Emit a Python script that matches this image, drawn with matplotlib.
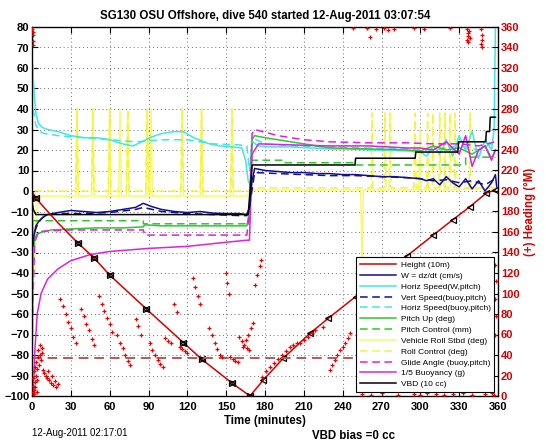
import numpy as np
import matplotlib
matplotlib.use("Agg")
import matplotlib.pyplot as plt

plt.rcParams['font.family'] = ['Liberation Sans', 'DejaVu Sans']
plt.rcParams['font.weight'] = 'bold'

# ---------------- data ----------------
height_t = [0, 3, 10, 20, 35.5, 48, 60, 90, 131, 154.5, 168.4, 178.7, 194.1, 214.8, 228.9, 260, 290, 320, 338, 351, 358]
height_v = [0, -3.5, -8.5, -15.5, -25.4, -32.7, -41, -58.5, -82, -93.7, -100, -92.2, -81.6, -69.4, -62.1, -46.5, -31.5, -16.5, -7.8, -1, 0.5]
height_mark_down_t = [3, 35.5, 48, 60, 88, 117, 131, 154.3, 168.4]
height_mark_up_t = [178.7, 194.1, 214.8, 228.9, 250, 270, 290, 310, 325, 338, 351, 357.5]

w_t = [0, 0.5, 1.5, 3, 5, 8, 12, 20, 30, 40, 50, 60, 70, 80, 86, 92, 100, 110, 120, 130, 140, 150, 160, 166, 168, 170, 172, 180, 190, 200, 210, 220, 230, 240, 250, 260, 270, 280, 290, 300, 305, 310, 315, 320, 325, 330, 335, 340, 345, 350, 355, 358, 359]
w_v = [0, -27, -22, -17, -15, -13, -11.5, -10.5, -9.5, -10, -10.5, -10, -9, -8, -6, -7.5, -9, -10, -10.5, -10, -10.8, -11, -11, -11.5, -8, 5, 11, 10, 9.5, 9, 9, 8.5, 8.5, 8, 8, 7.5, 7, 7, 6.5, 6, 5, 6, 3, 7, 4, 2, 6, 1, 5, 0, 4, 8, 2]

vs_t = [2, 5, 10, 20, 40, 60, 80, 86, 100, 120, 140, 160, 166, 168, 172, 190, 210, 230, 250, 270, 290, 300, 310, 320, 330, 340, 350, 358]
vs_v = [-20, -15, -12, -11, -11, -10.5, -9, -8, -10, -11, -11.5, -12, -12, -8, 9, 8.5, 8, 7.5, 7.5, 7, 6.5, 6, 5, 5.5, 4, 5, 3, 6]

hs_t = [0, 0.5, 1, 2, 3, 5, 8, 12, 20, 30, 40, 50, 60, 70, 78, 85, 91, 100, 110, 117, 125, 137, 145, 155, 162, 165, 167, 168.5, 170, 175, 185, 200, 215, 230, 245, 260, 275, 290, 300, 305, 310, 315, 320, 325, 330, 335, 340, 345, 350, 355, 357, 358]
hs_v = [20, 62, 55, 45, 38, 33, 31, 30, 29, 27, 26, 26, 25, 23, 22, 24, 26, 28, 29, 28.9, 26, 23, 22, 21.5, 21, 15, 5, 3, 24, 22, 21.5, 21.5, 21, 20.5, 20.5, 20, 20, 19.5, 19, 17, 22, 18, 25, 17, 27, 20, 29, 16, 25, 20, 30, 80]

hsb_t = [1, 3, 6, 10, 20, 40, 60, 80, 100, 120, 140, 160, 166, 168, 170, 180, 200, 230, 260, 290, 310, 330, 345, 358]
hsb_v = [40, 32, 29, 28, 27, 26, 25, 24, 25, 25, 23, 22.5, 22, 10, 26, 23, 22, 21.5, 21, 20.5, 20, 22, 20, 24]

pu_t = [0, 0.5, 1, 2, 4, 8, 15, 30, 50, 70, 86, 87, 100, 120, 140, 160, 166, 168, 170, 172, 180, 200, 230, 260, 290, 300, 310, 320, 330, 340, 350, 355, 358]
pu_v = [-100, -60, -30, -23, -21, -20, -19, -18.5, -18, -18, -17.5, -16.5, -17, -17, -17, -17, -17, -10, 25, 27, 26, 24, 21, 20.5, 20, 19.5, 22, 20, 21, 18, 22, 16, 20]

pc_t = [1, 86, 86, 168, 170, 195, 195, 250, 250, 335, 335, 358]
pc_v = [-14.5, -14.5, -16, -16, 15, 15, 13.8, 13.8, 12.7, 12.7, 16.5, 16.5]

roll_t = [0, 1, 2, 3, 4, 6, 33.8, 34.8, 35.8, 46, 47, 48, 59, 60, 61, 67, 68, 69, 73, 74, 75, 88, 89, 90, 91, 92, 93, 115, 116, 117, 130, 131, 132, 153.5, 154.5, 155.5, 166, 168, 170, 200, 230, 254, 255, 256, 298.8, 299.7, 300.6, 320, 340, 358]
roll_v = [0, -10, -40, -20, -3, -2.5, -2.5, 40, -2.5, -2.5, 38, -2.5, -2.5, 40, -2.5, -2.5, 40, -2.5, -2.5, 38, -2.5, -2.5, 40, -2.5, -2.5, 40, -2.5, -2.5, 40, -2.5, -2.5, 40, -2.5, -2.5, 38, -2.5, -2.5, 0, 0.5, 0.5, 0.5, 0.5, -38, 0.5, 0.5, 30, 0.5, 0.5, 1, 1.5]

rc_t = [2, 33.8, 34.8, 35.8, 46, 47, 48, 59, 60, 61, 73, 74, 75, 88, 89, 90, 115, 116, 117, 130, 131, 132, 153.5, 154.5, 155.5, 168, 170, 262, 262.7, 263.4, 272, 272.7, 273.4, 276, 276.6, 277.2, 295, 295.9, 296.8, 305, 305.6, 306.2, 309.2, 309.8, 310.4, 314.4, 315, 315.6, 318.4, 319, 319.6, 322.3, 322.9, 323.5, 326.2, 326.8, 327.4, 337.8, 338.4, 339, 358]
rc_v = [0, 0, 40, 0, 0, 40, 0, 0, 40, 0, 0, 40, 0, 0, 40, 0, 0, 40, 0, 0, 40, 0, 0, 40, 0, 0, 1.5, 1.5, 38, 1.5, 1.5, 38, 1.5, 1.5, 38, 1.5, 1.5, 38, 1.5, 1.5, 38, 1.5, 1.5, 38, 1.5, 1.5, 38, 1.5, 1.5, 38, 1.5, 1.5, 38, 1.5, 1.5, 38, 1.5, 1.5, 38, 1.5, 1.5]

ga_t = [0.5, 2, 5, 10, 30, 60, 86, 87, 120, 160, 166, 168, 170, 172, 190, 210, 230, 260, 290, 310, 330, 345, 358]
ga_v = [-60, -25, -20, -19.5, -19, -19, -19, -21.5, -21.5, -21.5, -21.5, -10, 28, 30, 27, 25, 24, 23.5, 23.5, 23, 23, 22, 24]

bu_t = [0, 1, 2, 4, 7, 12, 20, 30, 45, 60, 90, 120, 150, 166, 168, 170, 175, 200, 230, 260, 290, 300, 310, 320, 330, 335, 340, 345, 350, 355, 358]
bu_v = [-100, -100, -80, -60, -50, -43, -38, -34, -31, -29.5, -28, -27, -25, -24, -24, 18, 23, 22.5, 22, 22, 21, 21, 20, 24, 18, 27, 12, 20, 22, 15, 20]

vbd_t = [0, 1, 3, 167, 170, 249.5, 250, 296, 296.5, 329, 329.5, 350.5, 351, 353.5, 354, 358]
vbd_v = [-5, -9, -11.5, -11.5, 12.7, 12.7, 16, 16, 19, 19, 24, 24, 29, 29, 36, 36]

head_t = [0.3, 0.5, 0.6, 0.8, 1.0, 0.4, 0.7, 1.0, 1.2, 1.5, 1.8, 2.0, 2.3, 2.6, 2.9, 3.2, 3.5, 3.8, 4.2, 4.6, 5.0, 5.5, 6.0, 6.5, 7.0, 7.5, 8.0, 8.5, 9.5, 10.5, 11.5, 12.5, 13.5, 14.5, 15.5, 16.5, 17.5, 18.5, 20,
          22, 24, 26, 28, 30, 32, 34, 38, 40, 42, 44, 46, 48, 52, 54, 56, 58, 60, 62, 66, 68, 70, 72, 74, 76, 80, 82, 84,
          91, 93, 95, 97, 99, 101, 103, 105, 107, 110, 112, 114, 116, 118, 120, 124, 126, 128, 130,
          137, 139, 141, 143, 145, 147, 150, 151, 152, 153, 155, 157, 159, 160, 162, 164, 166, 168,
          163, 165, 167, 169, 171, 172, 174, 176, 177, 178, 181, 184, 187, 190, 193, 196, 199, 202, 205,
          207, 210, 213, 216, 219, 225, 230, 232, 234, 236, 238, 240, 242, 244, 246,
          248, 259, 261, 266, 272, 275, 280, 295, 303, 323, 336, 336.5, 337, 337.5, 338, 336, 337, 347, 347.5, 348, 347, 348,
          255, 262, 270, 283, 295, 300, 305, 312, 318, 325, 333, 340, 350, 355, 357,
          358, 358.5, 358, 358.5, 358]
head_v = [358, 352, 346, 342, 355, 4, 10, 18, 6, 24, 2, 14, 28, 9, 20, 33, 4, 16, 26, 38, 45, 30, 50, 40, 35, 47, 42, 25, 22, 20, 18, 24, 16, 13, 20, 11, 15, 9, 12,
          95, 88, 80, 72, 66, 58, 52, 85, 78, 70, 64, 56, 50, 98, 90, 83, 76, 70, 62, 60, 52, 47, 40, 34, 30, 75, 68, 60,
          52, 45, 40, 35, 31, 28, 57, 54, 52, 90, 82, 48, 46, 44, 42, 115, 106, 98, 90,
          66, 60, 52, 46, 40, 38, 120, 110, 100, 38, 36, 34, 33, 58, 54, 50, 47, 45,
          48, 55, 60, 66, 71, 108, 118, 127, 133, 19, 24, 28, 32, 36, 40, 44, 48, 50, 52,
          52, 55, 58, 61, 64, 67, 25, 30, 35, 40, 45, 48, 52, 57, 61,
          359, 359, 350, 358, 359, 357, 358, 359, 358, 359, 358, 354, 351, 356, 349, 347, 345, 358, 352, 347, 343, 340,
          2, 1, 3, 1, 2, 1, 3, 2, 1, 2, 3, 1, 2, 3, 1,
          60, 78, 95, 112, 128]

target_heading = 37

legend_labels = ['Height (10m)', 'W = dz/dt (cm/s)', 'Horiz Speed(W,pitch)', 'Vert Speed(buoy,pitch)',
                 'Horiz Speed(buoy,pitch)', 'Pitch Up (deg)', 'Pitch Control (mm)', 'Vehicle Roll Stbd (deg)',
                 'Roll Control (deg)', 'Glide Angle (buoy,pitch)', '1/5 Buoyancy (g)', 'VBD (10 cc)']

title = 'SG130 OSU Offshore, dive 540 started 12-Aug-2011 03:07:54'
xticks = list(range(0, 361, 30))
yticks = list(range(-100, 81, 10))
y2ticks = list(range(0, 361, 20))

# ---------------- plot ----------------
fig = plt.figure(figsize=(5.46, 4.42), dpi=100)
ax = fig.add_axes([32/546, 1-396/442, 466/546, 369/442])
ax2 = ax.twinx()

RED = '#d40000'
BLUE = '#101090'
CYAN = '#3ee8e8'
GREEN = '#2ec82e'
YEL = '#f4f43a'
MAG = '#e020e0'

lw = 1.1
h_line, = ax.plot(height_t, height_v, color=RED, lw=lw, zorder=10)
ax.plot(height_mark_down_t, np.interp(height_mark_down_t, height_t, height_v), ls='none',
        marker='>', ms=5, mfc='none', mec='black', mew=0.9, zorder=11)
ax.plot(height_mark_down_t, np.interp(height_mark_down_t, height_t, height_v), ls='none',
        marker='<', ms=5, mfc='none', mec='black', mew=0.9, zorder=11)
ax.plot(height_mark_up_t, np.interp(height_mark_up_t, height_t, height_v), ls='none',
        marker='<', ms=5, mfc='none', mec='black', mew=0.9, zorder=11)

l_w, = ax.plot(w_t, w_v, color=BLUE, lw=lw, zorder=5)
l_hs, = ax.plot(hs_t, hs_v, color=CYAN, lw=lw, zorder=3)
l_vs, = ax.plot(vs_t, vs_v, color=BLUE, lw=lw, ls=(0, (5, 3)), zorder=5)
l_hsb, = ax.plot(hsb_t, hsb_v, color=CYAN, lw=lw, ls=(0, (5, 3)), zorder=3)
l_pu, = ax.plot(pu_t, pu_v, color=GREEN, lw=lw, zorder=4)
l_pc, = ax.plot(pc_t, pc_v, color=GREEN, lw=lw, ls=(0, (5, 3)), zorder=4)
l_roll, = ax.plot(roll_t, roll_v, color='#f8f870', lw=lw, zorder=2)
l_rc, = ax.plot(rc_t, rc_v, color=YEL, lw=lw, ls=(0, (5, 3)), zorder=2)
l_ga, = ax.plot(ga_t, ga_v, color=MAG, lw=lw, ls=(0, (5, 3)), zorder=4)
l_bu, = ax.plot(bu_t, bu_v, color=MAG, lw=lw, zorder=4)
l_vbd, = ax.plot(vbd_t, vbd_v, color='black', lw=lw, zorder=6)

ax2.plot(head_t, head_v, ls='none', marker='+', ms=3.5, mew=0.9, color='#ee0000', zorder=3)
ax2.axhline(target_heading, color='#b45a5a', lw=1.4, ls=(0, (5, 3)), zorder=2)

ax.set_xlim(0, 360)
ax.set_ylim(-100, 80)
ax2.set_ylim(0, 360)
ax.set_xticks(xticks)
ax.set_yticks(yticks)
ax2.set_yticks(y2ticks)

ax.grid(True, ls=(0, (1, 3)), color='#707070', lw=0.7)
ax.tick_params(direction='in', length=4, width=0.8, top=True, labelsize=8, pad=2)
ax.tick_params(axis='x', pad=4)
ax2.tick_params(direction='in', length=4, width=0.8, labelsize=8, labelcolor=RED, pad=2)
for sp in ax.spines.values():
    sp.set_linewidth(0.9)

ax.set_title(title, fontsize=8.3, fontweight='bold', pad=6)
ax.set_xlabel('Time (minutes)', fontsize=8.3, fontweight='bold', labelpad=2.5)
ax2.set_ylabel('(+) Heading (\u00b0M)', fontsize=8.3, fontweight='bold', color=RED, labelpad=3)

handles = [h_line, l_w, l_hs, l_vs, l_hsb, l_pu, l_pc, l_roll, l_rc, l_ga, l_bu, l_vbd]
leg = ax2.legend(handles, legend_labels, loc='lower right', bbox_to_anchor=(0.992, 0.011),
                 borderaxespad=0, fancybox=False, framealpha=1, edgecolor='black',
                 prop={'size': 6.0, 'weight': 'normal'}, handlelength=4.3, labelspacing=0.36,
                 handletextpad=0.6, borderpad=0.45)
leg.get_frame().set_linewidth(0.8)
leg.set_zorder(20)

fig.text(32/546, 1-433/442, '12-Aug-2011 02:17:01', fontsize=7, fontweight='normal', va='center', ha='left')
fig.text(312/546, 1-436/442, 'VBD bias =0 cc', fontsize=8.3, fontweight='bold', va='center', ha='left')

fig.savefig('out.png', dpi=100)
